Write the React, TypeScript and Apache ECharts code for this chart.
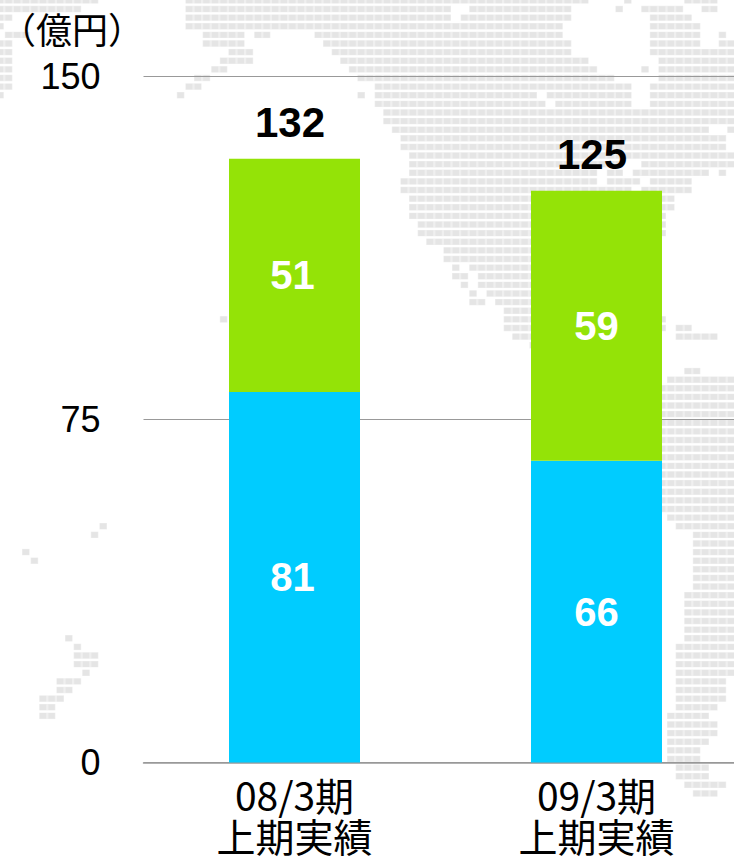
import React, { useEffect, useRef } from "react";
import * as echarts from "echarts";

const categories = ["08/3期\n上期実績", "09/3期\n上期実績"];
const lowerValues = [81, 66];
const upperValues = [51, 59];
const totals = [132, 125];
const yMax = 150;
const yStep = 75;
const unitLabel = "（億円）";

// Decorative dotted world map: row index followed by runs of column indexes.
type Run = [number, number];
const mapRows: [number, ...Run[]][] = [
  [0, [0, 11], [22, 68], [73, 73], [80, 83]],
  [1, [0, 9], [22, 52], [55, 66], [72, 72], [75, 79], [82, 83]],
  [2, [0, 1], [22, 52], [54, 66], [76, 80]],
  [3, [0, 0], [22, 65], [76, 81]],
  [4, [1, 3], [24, 28], [30, 31], [37, 65], [76, 81], [84, 84]],
  [5, [0, 1], [24, 28], [38, 66], [76, 81], [84, 85]],
  [6, [0, 1], [27, 29], [39, 66], [76, 85]],
  [7, [0, 1], [26, 29], [40, 68], [77, 85]],
  [8, [0, 1], [25, 26], [41, 69], [75, 75], [77, 85]],
  [9, [0, 1], [23, 24], [42, 71], [77, 85]],
  [10, [0, 1], [22, 23], [44, 73], [76, 85]],
  [11, [0, 0], [21, 21], [42, 42], [44, 62], [64, 73], [76, 85]],
  [12, [44, 63], [65, 73], [76, 85]],
  [13, [45, 85]],
  [14, [45, 85]],
  [15, [46, 82], [85, 85]],
  [16, [47, 84]],
  [17, [47, 84]],
  [18, [48, 85]],
  [19, [48, 72], [75, 85]],
  [20, [48, 69], [71, 72], [74, 82], [84, 84]],
  [21, [47, 69], [71, 74], [76, 80]],
  [22, [47, 73], [75, 80]],
  [23, [48, 78]],
  [24, [48, 78]],
  [25, [48, 77]],
  [26, [49, 77]],
  [27, [49, 77]],
  [28, [50, 76]],
  [29, [52, 76]],
  [30, [52, 76]],
  [31, [53, 53], [55, 76]],
  [32, [53, 54], [56, 76]],
  [33, [54, 54], [56, 76]],
  [34, [55, 55], [57, 76]],
  [35, [55, 56], [58, 76]],
  [36, [59, 76]],
  [37, [26, 26], [59, 77]],
  [38, [59, 77], [79, 80]],
  [39, [60, 76], [79, 83]],
  [40, [62, 66]],
  [43, [80, 81]],
  [44, [78, 85]],
  [45, [77, 85]],
  [46, [77, 85]],
  [47, [77, 85]],
  [48, [77, 85]],
  [49, [77, 85]],
  [50, [77, 85]],
  [51, [77, 85]],
  [52, [77, 85]],
  [53, [77, 85]],
  [54, [77, 85]],
  [55, [77, 85]],
  [56, [77, 85]],
  [57, [77, 85]],
  [58, [77, 85]],
  [59, [77, 85]],
  [60, [78, 85]],
  [61, [12, 12], [79, 85]],
  [62, [11, 11], [81, 85]],
  [63, [81, 85]],
  [64, [3, 3], [81, 85]],
  [65, [4, 4], [81, 85]],
  [66, [81, 85]],
  [67, [81, 85]],
  [68, [81, 85]],
  [69, [80, 85]],
  [70, [80, 85]],
  [71, [80, 85]],
  [72, [80, 85]],
  [73, [80, 85]],
  [74, [8, 8], [80, 85]],
  [75, [9, 9], [79, 85]],
  [76, [9, 11], [79, 85]],
  [77, [9, 11], [79, 85]],
  [78, [10, 10], [79, 85]],
  [79, [7, 9], [79, 84]],
  [80, [7, 8], [79, 84]],
  [81, [5, 7], [79, 84]],
  [82, [5, 6], [79, 83]],
  [83, [5, 6], [78, 82]],
  [84, [78, 83]],
  [85, [78, 83]],
  [86, [78, 82]],
  [87, [78, 81]],
  [88, [78, 81]],
  [89, [79, 82]],
  [90, [79, 82]],
  [91, [80, 84]],
  [92, [81, 83]],
];

const LATIN = '"Liberation Sans", Arial, sans-serif';
const CJK = '"Noto Sans CJK JP", "Liberation Sans", sans-serif';

function mapDots() {
  const dots: any[] = [];
  for (const [row, ...runs] of mapRows) {
    const top = 0.4 + row * 8.62 - 3.2;
    for (const [a, b] of runs as Run[]) {
      dots.push({
        type: "rect",
        silent: true,
        z: -2,
        shape: { x: a * 8.6 - 3.8, y: top, width: (b - a) * 8.6 + 7.6, height: 6.4 },
        style: { fill: "#efefef" },
      });
      for (let c = a; c <= b; c++) {
        dots.push({
          type: "rect",
          silent: true,
          z: -1,
          shape: { x: c * 8.6 - 3.2, y: top + 0.4, width: 6.4, height: 5.6 },
          style: { fill: "#e5e5e5" },
        });
      }
    }
  }
  return dots;
}

const valueLabel = {
  show: true,
  position: "inside",
  color: "#ffffff",
  fontFamily: LATIN,
  fontWeight: "bold",
  fontSize: 40,
};

export default function App() {
  const ref = useRef<HTMLDivElement>(null);
  useEffect(() => {
    const chart = echarts.init(ref.current!, undefined, { renderer: "svg" });
    chart.setOption({
      animation: false,
      backgroundColor: "#ffffff",
      graphic: [
        ...mapDots(),
        {
          type: "text",
          x: 0,
          y: 28,
          z: 5,
          style: {
            text: unitLabel,
            fontFamily: CJK,
            fontSize: 36,
            fill: "#000000",
            verticalAlign: "middle",
          },
        },
      ],
      grid: { left: 143.5, top: 76.5, width: 604, height: 686, containLabel: false },
      xAxis: {
        type: "category",
        data: categories,
        axisTick: { show: false },
        axisLine: { lineStyle: { color: "#999999", width: 1.5 } },
        axisLabel: {
          color: "#000000",
          fontFamily: CJK,
          fontSize: 39,
          lineHeight: 41,
          margin: 11,
          interval: 0,
        },
      },
      yAxis: {
        type: "value",
        min: 0,
        max: yMax,
        interval: yStep,
        axisLine: { show: false },
        axisTick: { show: false },
        splitLine: { lineStyle: { color: "#999999", width: 1 } },
        axisLabel: { color: "#000000", fontFamily: LATIN, fontSize: 36, margin: 43 },
      },
      series: [
        {
          name: "lower",
          type: "bar",
          stack: "total",
          barWidth: 131,
          itemStyle: { color: "#00ccff" },
          label: valueLabel,
          data: lowerValues.map((value, i) => ({
            value,
            label: { offset: [i === 0 ? -2 : 0, 0] },
          })),
        },
        {
          name: "upper",
          type: "bar",
          stack: "total",
          barWidth: 131,
          itemStyle: { color: "#94e307" },
          label: valueLabel,
          data: upperValues.map((value, i) => ({
            value,
            label: { offset: [i === 0 ? -2 : 0, 0] },
          })),
        },
        {
          name: "total",
          type: "scatter",
          symbolSize: 0,
          itemStyle: { color: "transparent", opacity: 1 },
          label: {
            show: true,
            position: "top",
            distance: 15,
            offset: [-4.5, 0],
            color: "#000000",
            opacity: 1,
            fontFamily: LATIN,
            fontWeight: "bold",
            fontSize: 42,
          },
          data: totals,
        },
      ],
    });
    return () => chart.dispose();
  }, []);
  return (
    <div style={{ position: "absolute", left: 0, top: 0, width: 734, height: 859, overflow: "hidden" }}>
      <div ref={ref} style={{ width: 760, height: 859 }} />
    </div>
  );
}
